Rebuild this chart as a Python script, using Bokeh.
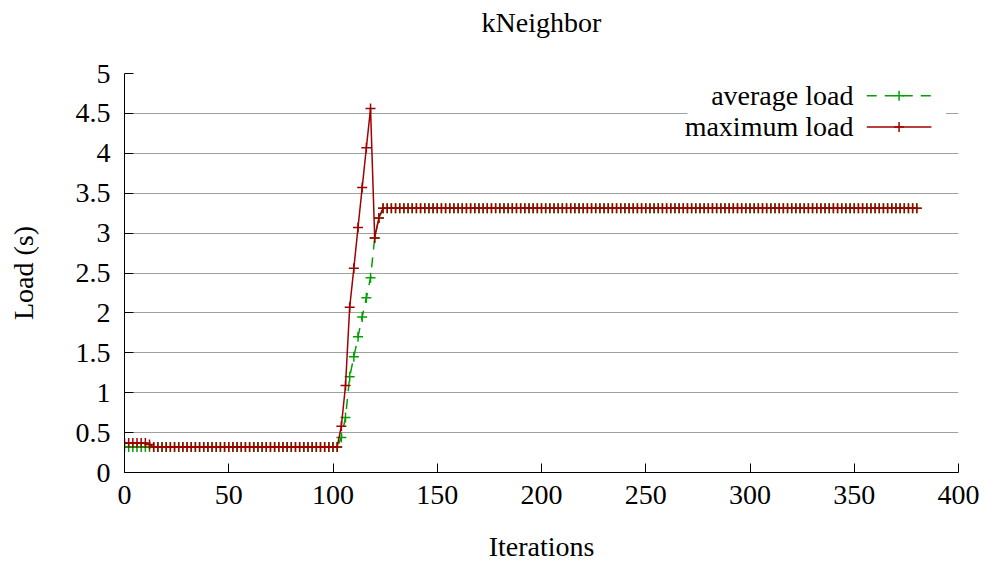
from bokeh.plotting import figure
from bokeh.models import Range1d, FixedTicker, LinearAxis
from bokeh.core.properties import value
from bokeh.embed import file_html
from bokeh.resources import INLINE

# ---- data ----
iterations = list(range(0, 382, 2))  # 0, 2, ..., 380

avg_start = [0.32] * 52                      # iterations 0..102
avg_rise = [0.44, 0.69, 1.20, 1.45, 1.70, 1.95, 2.19, 2.44, 2.94, 3.19]  # 104..122
avg_plateau = [3.31] * 129                   # 124..380
average_load = avg_start + avg_rise + avg_plateau

max_start = [0.37] * 6 + [0.35] + [0.32] * 45   # 0..102
max_rise = [0.58, 1.09, 2.07, 2.56, 3.07, 3.57, 4.07, 4.56, 2.94, 3.19]  # 104..122
max_plateau = [3.31] * 129                      # 124..380
maximum_load = max_start + max_rise + max_plateau

x_ticks = [0, 50, 100, 150, 200, 250, 300, 350, 400]
y_ticks = [0, 0.5, 1, 1.5, 2, 2.5, 3, 3.5, 4, 4.5, 5]
y_tick_labels = {0: "0", 0.5: "0.5", 1: "1", 1.5: "1.5", 2: "2", 2.5: "2.5",
                 3: "3", 3.5: "3.5", 4: "4", 4.5: "4.5", 5: "5"}
series_names = ["average load", "maximum load"]
chart_title = "kNeighbor"

GREEN = "#00a000"
RED = "#a00000"
FONT = "Liberation Serif"
FS = "28px"

p = figure(width=985, height=564, output_backend="svg", toolbar_location=None,
           x_range=Range1d(0, 400), y_range=Range1d(0, 5),
           min_border_left=124, min_border_right=27,
           min_border_top=73, min_border_bottom=90)
p.outline_line_color = None
p.background_fill_color = "white"
p.border_fill_color = "white"

for ax in (p.xaxis[0], p.yaxis[0]):
    ax.axis_line_color = "black"
    ax.axis_line_width = 1
    ax.major_tick_in = 9
    ax.major_tick_out = 0
    ax.minor_tick_in = 0
    ax.minor_tick_out = 0
    ax.major_tick_line_color = "black"
    ax.major_label_text_font = FONT
    ax.major_label_text_font_size = FS
    ax.major_label_text_color = "black"
    ax.axis_label_text_font = FONT
    ax.axis_label_text_font_size = FS
    ax.axis_label_text_font_style = "normal"
    ax.axis_label_text_color = "black"

p.xaxis.ticker = FixedTicker(ticks=x_ticks)
p.yaxis.ticker = FixedTicker(ticks=y_ticks)
p.yaxis.major_label_overrides = y_tick_labels
p.xaxis.axis_label = "Iterations"
p.yaxis.axis_label = "Load (s)"
p.xaxis.major_label_standoff = 13
p.yaxis.major_label_standoff = 14
p.xaxis.axis_label_standoff = 24
p.yaxis.axis_label_standoff = 34

# title drawn as the label of a bare axis above the frame
title_axis = LinearAxis(ticker=FixedTicker(ticks=[]), axis_label=chart_title,
                        axis_line_color=None, major_tick_line_color=None,
                        minor_tick_line_color=None,
                        axis_label_text_font=FONT, axis_label_text_font_size=FS,
                        axis_label_text_font_style="normal",
                        axis_label_text_color="black",
                        axis_label_standoff=36)
p.add_layout(title_axis, "above")

p.xgrid.grid_line_color = None
p.ygrid.grid_line_color = "#a0a0a0"
p.ygrid.grid_line_width = 1
p.ygrid.ticker = FixedTicker(ticks=y_ticks)

# series
p.line(iterations, average_load, line_color=GREEN, line_width=1.5, line_dash="10 8")
p.scatter(iterations, average_load, marker="cross", size=10, line_color=GREEN, line_width=1.5)
p.line(iterations, maximum_load, line_color=RED, line_width=1.5)
p.scatter(iterations, maximum_load, marker="cross", size=10, line_color=RED, line_width=1.5)

# legend (gnuplot style: text right-aligned, sample to the right)
leg_box = dict(left=[270], right=[394], bottom=[4.17], top=[4.88])
p.quad(**leg_box, fill_color="white", line_color=None)
leg_y = [4.72, 4.33]
leg_text_x = 349.6
leg_x0, leg_x1, leg_xm = 356, 387, 371.5
p.text(x=[leg_text_x] * 2, y=leg_y, text=series_names, text_align="right",
       text_baseline="middle", text_font=value(FONT), text_font_size=FS,
       text_color="black")
p.line([leg_x0, leg_x1], [leg_y[0]] * 2, line_color=GREEN, line_width=1.5, line_dash="10 8")
p.scatter([leg_xm], [leg_y[0]], marker="cross", size=10, line_color=GREEN, line_width=1.5)
p.line([leg_x0, leg_x1], [leg_y[1]] * 2, line_color=RED, line_width=1.5)
p.scatter([leg_xm], [leg_y[1]], marker="cross", size=10, line_color=RED, line_width=1.5)

open("out.html", "w").write(file_html(p, INLINE))
